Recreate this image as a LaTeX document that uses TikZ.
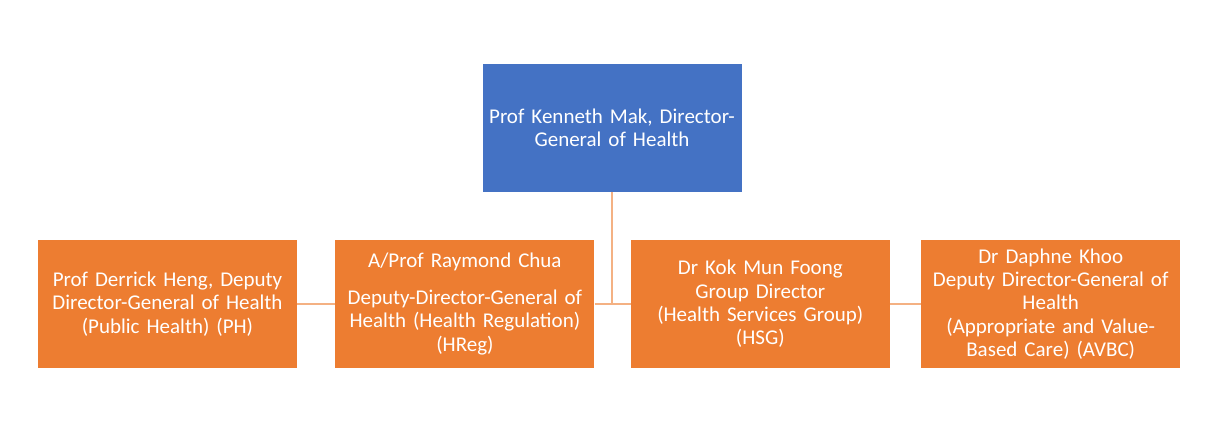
\documentclass[tikz,border=0pt]{standalone}
\usepackage{fontspec}
\setmainfont{Carlito}
\usepackage{xcolor}
\usetikzlibrary{positioning}
\definecolor{headblue}{HTML}{4472C4}
\definecolor{deptorange}{HTML}{ED7D31}
\definecolor{linkorange}{HTML}{F4B183}

\begin{document}
\begin{tikzpicture}[
  x=1pt, y=-1pt,
  unit/.style={fill=#1,draw=none,text=white,minimum width=259pt,minimum height=128pt,
    text width=257pt,align=center,inner sep=0pt,
    font=\fontsize{21}{23.4}\selectfont},
  link/.style={draw=linkorange,line width=1.6pt}
]
  \useasboundingbox (0,0) rectangle (1224,424);

  \node[unit=headblue] (dg) at (612,128) {Prof Kenneth Mak, Director-\\General of Health};

  \node[unit=deptorange] (ph) at (167.5,304) {Prof Derrick Heng, Deputy\\Director-General of Health\\(Public Health) (PH)};
  \node[unit=deptorange, right=38pt of ph] (hreg) {A/Prof Raymond Chua\\[13pt]Deputy-Director-General of\\Health (Health Regulation)\\(HReg)};
  \node[unit=deptorange, right=36pt of hreg] (hsg) {Dr Kok Mun Foong\\Group Director\\(Health Services Group)\\(HSG)};
  \node[unit=deptorange, right=31pt of hsg] (avbc) {Dr Daphne Khoo\\Deputy Director-General of\\Health\\(Appropriate and Value-\\Based Care) (AVBC)};

  \coordinate (hub) at (dg.south |- hreg.east);

  \draw[link] (dg.south) -- (hub);
  \draw[link] (ph) -- (hreg);
  \draw[link] (hreg) -- (hsg);
  \draw[link] (hsg) -- (avbc);
\end{tikzpicture}
\end{document}
